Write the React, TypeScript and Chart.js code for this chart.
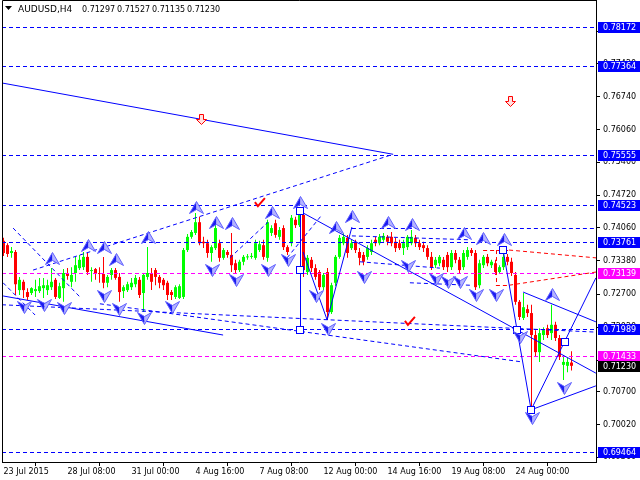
import React, { useEffect, useRef } from 'react';
import { Chart, registerables } from 'chart.js';

Chart.register(...registerables);

// ---- Candle data (AUDUSD H4), bar index 0 = first visible bar ----
const OPEN = [
  0.7379, 0.7370, 0.7354, 0.7356, 0.7278, 0.7295, 0.7274, 0.7272, 0.7276, 0.7276,
  0.7282, 0.7278, 0.7284, 0.7299, 0.7262, 0.7282, 0.7313, 0.7295, 0.7313, 0.7323,
  0.7325, 0.7346, 0.7317, 0.7321, 0.7313, 0.7311, 0.7293, 0.7309, 0.7319, 0.7305,
  0.7276, 0.7278, 0.7284, 0.7290, 0.7299, 0.7272, 0.7305, 0.7313, 0.7319, 0.7305,
  0.7299, 0.7293, 0.7274, 0.7264, 0.7262, 0.7264, 0.7360, 0.7387, 0.7395, 0.7417,
  0.7377, 0.7374, 0.7354, 0.7364, 0.7374, 0.7344, 0.7356, 0.7350, 0.7333, 0.7319,
  0.7336, 0.7345, 0.7346, 0.7344, 0.7360, 0.7370, 0.7344, 0.7395, 0.7415, 0.7387,
  0.7405, 0.7366, 0.7374, 0.7422, 0.7411, 0.7432, 0.7315, 0.7340, 0.7323, 0.7315,
  0.7284, 0.7315, 0.7233, 0.7293, 0.7346, 0.7374, 0.7385, 0.7364, 0.7377, 0.7356,
  0.7350, 0.7346, 0.7356, 0.7381, 0.7374, 0.7381, 0.7387, 0.7387, 0.7377, 0.7374,
  0.7364, 0.7366, 0.7374, 0.7385, 0.7374, 0.7370, 0.7364, 0.7346, 0.7329, 0.7333,
  0.7340, 0.7350, 0.7325, 0.7354, 0.7340, 0.7325, 0.7346, 0.7360, 0.7354, 0.7288,
  0.7329, 0.7346, 0.7329, 0.7333, 0.7315, 0.7325, 0.7346, 0.7336, 0.7309, 0.7254,
  0.7221, 0.7239, 0.7231, 0.7186, 0.7151, 0.7186, 0.7200, 0.7190, 0.7207, 0.7180,
  0.7125, 0.7123, 0.71297,
];
const HIGH = [
  0.7385, 0.7374, 0.7366, 0.7360, 0.7305, 0.7299, 0.7282, 0.7284, 0.7299, 0.7303,
  0.7303, 0.7299, 0.7323, 0.7303, 0.7293, 0.7321, 0.7323, 0.7325, 0.7346, 0.7350,
  0.7356, 0.7354, 0.7325, 0.7323, 0.7325, 0.7346, 0.7309, 0.7323, 0.7323, 0.7313,
  0.7288, 0.7295, 0.7303, 0.7309, 0.7305, 0.7313, 0.7366, 0.7323, 0.7323, 0.7309,
  0.7303, 0.7297, 0.7278, 0.7288, 0.7290, 0.7364, 0.7393, 0.7401, 0.7436, 0.7428,
  0.7387, 0.7381, 0.7370, 0.7422, 0.7381, 0.7364, 0.7360, 0.7395, 0.7340, 0.7340,
  0.7350, 0.7352, 0.7354, 0.7381, 0.7379, 0.7381, 0.7422, 0.7411, 0.7422, 0.7407,
  0.7411, 0.7370, 0.7432, 0.7428, 0.7440, 0.7436, 0.7350, 0.7346, 0.7331, 0.7319,
  0.7313, 0.7323, 0.7293, 0.7350, 0.7391, 0.7395, 0.7391, 0.7381, 0.7381, 0.7364,
  0.7356, 0.7370, 0.7381, 0.7387, 0.7393, 0.7395, 0.7391, 0.7397, 0.7385, 0.7381,
  0.7381, 0.7391, 0.7401, 0.7391, 0.7381, 0.7377, 0.7370, 0.7356, 0.7346, 0.7350,
  0.7346, 0.7356, 0.7360, 0.7360, 0.7346, 0.7360, 0.7366, 0.7364, 0.7360, 0.7340,
  0.7350, 0.7352, 0.7340, 0.7340, 0.7329, 0.7360, 0.7352, 0.7344, 0.7315, 0.7258,
  0.7272, 0.7248, 0.7248, 0.7196, 0.7200, 0.7202, 0.7207, 0.7248, 0.7213, 0.7186,
  0.7145, 0.7139, 0.71527,
];
const LOW = [
  0.7348, 0.7346, 0.7344, 0.7268, 0.7268, 0.7262, 0.7258, 0.7268, 0.7264, 0.7272,
  0.7262, 0.7268, 0.7278, 0.7260, 0.7260, 0.7254, 0.7299, 0.7284, 0.7295, 0.7319,
  0.7319, 0.7309, 0.7295, 0.7299, 0.7293, 0.7282, 0.7284, 0.7299, 0.7299, 0.7254,
  0.7262, 0.7274, 0.7278, 0.7284, 0.7262, 0.7233, 0.7299, 0.7278, 0.7288, 0.7282,
  0.7278, 0.7258, 0.7258, 0.7260, 0.7260, 0.7260, 0.7356, 0.7383, 0.7391, 0.7370,
  0.7364, 0.7344, 0.7336, 0.7360, 0.7336, 0.7340, 0.7344, 0.7315, 0.7313, 0.7315,
  0.7329, 0.7340, 0.7342, 0.7340, 0.7356, 0.7340, 0.7336, 0.7389, 0.7385, 0.7381,
  0.7360, 0.7350, 0.7368, 0.7405, 0.7407, 0.7305, 0.7309, 0.7315, 0.7299, 0.7278,
  0.7278, 0.7217, 0.7229, 0.7286, 0.7342, 0.7370, 0.7344, 0.7360, 0.7354, 0.7329,
  0.7329, 0.7340, 0.7350, 0.7368, 0.7370, 0.7377, 0.7370, 0.7368, 0.7356, 0.7360,
  0.7350, 0.7360, 0.7370, 0.7366, 0.7360, 0.7356, 0.7340, 0.7319, 0.7323, 0.7327,
  0.7319, 0.7315, 0.7319, 0.7333, 0.7313, 0.7319, 0.7340, 0.7348, 0.7278, 0.7282,
  0.7323, 0.7327, 0.7323, 0.7309, 0.7311, 0.7319, 0.7329, 0.7307, 0.7248, 0.7217,
  0.7217, 0.7223, 0.7033, 0.7141, 0.7131, 0.7176, 0.7180, 0.7176, 0.7174, 0.7135,
  0.7094, 0.7110, 0.71135,
];
const CLOSE = [
  0.7354, 0.7352, 0.7358, 0.7290, 0.7299, 0.7278, 0.7264, 0.7282, 0.7280, 0.7286,
  0.7288, 0.7288, 0.7295, 0.7264, 0.7286, 0.7313, 0.7307, 0.7309, 0.7329, 0.7340,
  0.7346, 0.7315, 0.7319, 0.7313, 0.7311, 0.7293, 0.7305, 0.7319, 0.7303, 0.7274,
  0.7284, 0.7290, 0.7293, 0.7303, 0.7268, 0.7309, 0.7313, 0.7295, 0.7305, 0.7293,
  0.7288, 0.7268, 0.7268, 0.7284, 0.7286, 0.7360, 0.7387, 0.7397, 0.7417, 0.7374,
  0.7374, 0.7354, 0.7366, 0.7405, 0.7344, 0.7360, 0.7350, 0.7329, 0.7319, 0.7336,
  0.7346, 0.7347, 0.7348, 0.7374, 0.7372, 0.7346, 0.7417, 0.7405, 0.7391, 0.7401,
  0.7366, 0.7356, 0.7426, 0.7411, 0.7432, 0.7319, 0.7344, 0.7323, 0.7305, 0.7284,
  0.7309, 0.7233, 0.7288, 0.7346, 0.7385, 0.7387, 0.7354, 0.7374, 0.7360, 0.7344,
  0.7336, 0.7364, 0.7374, 0.7374, 0.7387, 0.7389, 0.7377, 0.7374, 0.7364, 0.7364,
  0.7374, 0.7387, 0.7387, 0.7374, 0.7366, 0.7364, 0.7346, 0.7325, 0.7340, 0.7346,
  0.7325, 0.7325, 0.7354, 0.7340, 0.7319, 0.7354, 0.7360, 0.7354, 0.7284, 0.7333,
  0.7346, 0.7333, 0.7336, 0.7315, 0.7325, 0.7346, 0.7336, 0.7313, 0.7254, 0.7223,
  0.7243, 0.7231, 0.7186, 0.7151, 0.7190, 0.7196, 0.7186, 0.7207, 0.7180, 0.7141,
  0.7131, 0.7131, 0.71230,
];

// ---- Axes ----
const X_TICK_BARS = [0, 16, 32, 48, 64, 80, 96, 112, 128];
const X_TICK_LABELS = [
  '23 Jul 2015', '28 Jul 08:00', '31 Jul 00:00', '4 Aug 16:00', '7 Aug 08:00',
  '12 Aug 00:00', '14 Aug 16:00', '19 Aug 08:00', '24 Aug 00:00',
];
const Y_TICKS = [
  0.7808, 0.7742, 0.7674, 0.7606, 0.754, 0.7472, 0.7406, 0.7338, 0.727, 0.7202,
  0.7134, 0.707, 0.7002, 0.6936,
];
const X_MIN = -0.375;
const X_MAX = 148.125;
const Y_MIN = 0.69261;
const Y_MAX = 0.78719;

// ---- Title ----
const SYMBOL = 'AUDUSD,H4';
const TITLE_VALUES = ['0.71297', '0.71527', '0.71135', '0.71230'];

// ---- Horizontal levels ----
const BLUE_LEVELS = [0.78172, 0.77364, 0.75555, 0.74523, 0.73761, 0.71989, 0.69464];
const MAGENTA_LEVELS = [0.73139, 0.71433];
const PRICE_TAGS: [number, string][] = [
  [0.78172, '#0000ff'], [0.77364, '#0000ff'], [0.75555, '#0000ff'], [0.74523, '#0000ff'],
  [0.73761, '#0000ff'], [0.73139, '#ff00ff'], [0.71989, '#0000ff'], [0.71433, '#ff00ff'],
  [0.7123, '#000000'], [0.69464, '#0000ff'],
];

// ---- Trend lines [barFrom, priceFrom, barTo, priceTo] ----
const SOLID_LINES = [
  [-0.375, 0.7702, 97.4, 0.7556],
  [-0.1, 0.7266, 54.9, 0.7186],
  [74, 0.744, 148.1, 0.7108],
  [74, 0.744, 74, 0.7196],
  [80.9, 0.7217, 87.1, 0.7407],
  [74.9, 0.7356, 80.9, 0.7217],
  [124.9, 0.736, 128.4, 0.7196],
  [128.4, 0.7196, 131.9, 0.7033],
  [131.9, 0.7033, 148.1, 0.7303],
  [131.9, 0.7033, 148.1, 0.7082],
  [129.9, 0.7274, 148.1, 0.7213],
];
const DASHED_LINES = [
  [7.4, 0.7319, 97.4, 0.7556],
  [2.4, 0.7405, 19.1, 0.7264],
  [-0.1, 0.7293, 7.9, 0.7227],
  [-0.375, 0.7248, 148.125, 0.7192],
  [24.1, 0.725, 129.6, 0.7131],
  [87.1, 0.7405, 148.125, 0.7405],
  [56.6, 0.7344, 66.1, 0.7417],
  [70.9, 0.7344, 79.6, 0.7432],
  [87.1, 0.7389, 116.6, 0.7381],
  [89.1, 0.7336, 109.1, 0.7323],
  [101.6, 0.7293, 116.6, 0.7288],
];
const RED_DASHED_LINES = [
  [119.9, 0.736, 126.4, 0.736],
  [126.4, 0.736, 148.125, 0.7344],
  [123.1, 0.7288, 126.4, 0.7288],
  [126.4, 0.7288, 148.125, 0.7315],
  [123.1, 0.736, 123.1, 0.7288],
];
const SQUARES = [
  [74, 0.744], [74, 0.7319], [74, 0.7196], [124.9, 0.736], [128.4, 0.7196],
  [131.9, 0.7033], [140.4, 0.7172],
];
const UP_ARROWS = [
  [12, 0.7344], [21, 0.737], [25, 0.7366], [28, 0.7342], [36, 0.7387], [48, 0.7448],
  [53, 0.7417], [57, 0.7415], [67, 0.7438], [74, 0.7458], [83, 0.7407], [87, 0.743],
  [96, 0.7417], [102, 0.7413], [115, 0.7395], [120, 0.7385], [125, 0.7383], [137, 0.727],
];
const DOWN_ARROWS = [
  [5, 0.7243], [10, 0.7248], [15, 0.7241], [25, 0.7266], [29, 0.7239], [35, 0.7221],
  [42, 0.7243], [52, 0.7319], [58, 0.7299], [66, 0.7319], [71, 0.734], [78, 0.7266],
  [81, 0.7198], [90, 0.7305], [101, 0.7327], [108, 0.7301], [111, 0.7295], [114, 0.7295],
  [118, 0.7268], [123, 0.7268], [129, 0.7182], [132, 0.7016], [140, 0.7077],
];
const RED_ARROWS = [[49.4, 0.7628], [126.6, 0.7665]];
const CHECKS = [[64.1, 0.7456], [101.6, 0.7213]];

const FONT = '"DejaVu Sans", Verdana, sans-serif';
const GREEN = '#00ff00';
const RED = '#ff0000';

export default function App() {
  const ref = useRef<HTMLCanvasElement | null>(null);

  useEffect(() => {
    document.body.style.margin = '0';
    const canvas = ref.current;
    if (!canvas) return;

    const colors = OPEN.map((o, i) => (CLOSE[i] >= o ? GREEN : RED));
    const wicks = OPEN.map((_, i) => ({ x: i, y: [LOW[i], HIGH[i]] }));
    const bodies = OPEN.map((o, i) => ({ x: i, y: [o, CLOSE[i]] }));

    const overlay = {
      id: 'overlay',
      afterDatasetsDraw(chart: any) {
        const { ctx, chartArea: a } = chart;
        const xs = chart.scales.x;
        const ys = chart.scales.y;
        const X = (v: number) => xs.getPixelForValue(v);
        const Y = (v: number) => ys.getPixelForValue(v);
        ctx.save();
        ctx.beginPath();
        ctx.rect(a.left, a.top, a.right - a.left, a.bottom - a.top);
        ctx.clip();
        ctx.lineWidth = 1;

        const seg = (l: number[]) => {
          let x1 = X(l[0]), y1 = Y(l[1]), x2 = X(l[2]), y2 = Y(l[3]);
          if (Math.abs(y1 - y2) < 0.01) { y1 = y2 = Math.round(y1) + 0.5; }
          if (Math.abs(x1 - x2) < 0.01) { x1 = x2 = Math.round(x1) + 0.5; }
          ctx.beginPath();
          ctx.moveTo(x1, y1);
          ctx.lineTo(x2, y2);
          ctx.stroke();
        };

        // horizontal levels
        ctx.setLineDash([4, 3]);
        ctx.strokeStyle = '#0000ff';
        BLUE_LEVELS.forEach((p) => seg([X_MIN, p, X_MAX, p]));
        ctx.strokeStyle = '#ff00ff';
        MAGENTA_LEVELS.forEach((p) => seg([X_MIN, p, X_MAX, p]));
        ctx.strokeStyle = '#0000ff';
        DASHED_LINES.forEach(seg);
        ctx.strokeStyle = '#ff0000';
        RED_DASHED_LINES.forEach(seg);
        ctx.setLineDash([]);
        ctx.strokeStyle = '#0000ff';
        SOLID_LINES.forEach(seg);

        // squares
        SQUARES.forEach(([i, p]) => {
          const cx = Math.round(X(i)), cy = Math.round(Y(p));
          ctx.fillStyle = '#ffffff';
          ctx.fillRect(cx - 3, cy - 3, 7, 7);
          ctx.strokeStyle = '#0000ff';
          ctx.strokeRect(cx - 3.5, cy - 3.5, 7, 7);
        });

        // fractal arrows
        const arrow = (cx: number, cy: number, dir: number) => {
          const t = cy - 6 * dir, b = cy + 6 * dir, n = cy + 2 * dir;
          ctx.beginPath();
          ctx.moveTo(cx, t); ctx.lineTo(cx - 7, b); ctx.lineTo(cx, n); ctx.closePath();
          ctx.fillStyle = '#1c1cf0';
          ctx.fill();
          ctx.beginPath();
          ctx.moveTo(cx, t); ctx.lineTo(cx + 7, b); ctx.lineTo(cx, n); ctx.closePath();
          ctx.fillStyle = '#b4b4ff';
          ctx.fill();
          ctx.beginPath();
          ctx.moveTo(cx - 7, b); ctx.lineTo(cx, t); ctx.lineTo(cx + 7, b); ctx.lineTo(cx, n); ctx.closePath();
          ctx.strokeStyle = '#6060ff';
          ctx.stroke();
        };
        UP_ARROWS.forEach(([i, p]) => arrow(Math.round(X(i)) + 0.5, Math.round(Y(p)) + 0.5, 1));
        DOWN_ARROWS.forEach(([i, p]) => arrow(Math.round(X(i)) + 0.5, Math.round(Y(p)) + 0.5, -1));

        // red down arrows
        RED_ARROWS.forEach(([i, p]) => {
          const cx = Math.round(X(i)) + 0.5, cy = Math.round(Y(p)) + 0.5;
          ctx.beginPath();
          ctx.moveTo(cx - 2, cy - 5); ctx.lineTo(cx + 2, cy - 5); ctx.lineTo(cx + 2, cy);
          ctx.lineTo(cx + 5, cy); ctx.lineTo(cx, cy + 5); ctx.lineTo(cx - 5, cy);
          ctx.lineTo(cx - 2, cy); ctx.closePath();
          ctx.fillStyle = '#ffe0e0';
          ctx.fill();
          ctx.strokeStyle = '#ff0000';
          ctx.stroke();
        });

        // red check marks
        CHECKS.forEach(([i, p]) => {
          const cx = X(i), cy = Y(p);
          ctx.beginPath();
          ctx.moveTo(cx - 5, cy - 1); ctx.lineTo(cx - 2, cy + 3); ctx.lineTo(cx + 5, cy - 5);
          ctx.strokeStyle = '#ff0000';
          ctx.lineWidth = 2;
          ctx.stroke();
          ctx.lineWidth = 1;
        });
        ctx.restore();
      },
      afterDraw(chart: any) {
        const { ctx, chartArea: a } = chart;
        const ys = chart.scales.y;
        ctx.save();
        // frame (left + top)
        ctx.strokeStyle = '#000';
        ctx.lineWidth = 1;
        ctx.beginPath();
        ctx.moveTo(a.left + 0.5, a.bottom);
        ctx.lineTo(a.left + 0.5, a.top + 0.5);
        ctx.lineTo(a.right, a.top + 0.5);
        ctx.stroke();

        // price tags on the axis
        ctx.font = `8px ${FONT}`;
        ctx.textBaseline = 'middle';
        ctx.textAlign = 'left';
        PRICE_TAGS.forEach(([p, c]) => {
          const cy = Math.round(ys.getPixelForValue(p));
          ctx.fillStyle = c;
          ctx.fillRect(a.right + 2, cy - 5, 42, 11);
          ctx.fillStyle = '#ffffff';
          ctx.fillText(p.toFixed(5), a.right + 7, cy + 0.5);
        });

        // title
        ctx.fillStyle = '#000';
        ctx.beginPath();
        ctx.moveTo(5, 6); ctx.lineTo(12, 6); ctx.lineTo(8.5, 10); ctx.closePath();
        ctx.fill();
        ctx.font = `9px ${FONT}`;
        ctx.fillText(SYMBOL, 18, 9.5);
        ctx.font = `8px ${FONT}`;
        TITLE_VALUES.forEach((t, k) => ctx.fillText(t, 82 + k * 35, 9.5));
        ctx.restore();
      },
    };

    const chart = new Chart(canvas, {
      type: 'bar',
      data: {
        datasets: [
          {
            data: wicks as any,
            backgroundColor: colors,
            barThickness: 1,
            grouped: false,
            inflateAmount: 0,
            borderWidth: 0,
          } as any,
          {
            data: bodies as any,
            backgroundColor: colors,
            barThickness: 3,
            grouped: false,
            inflateAmount: 0,
            borderWidth: 0,
            minBarLength: 1,
          } as any,
        ],
      },
      options: {
        responsive: false,
        animation: false,
        devicePixelRatio: 1,
        events: [],
        layout: { padding: { left: 2, top: 0, right: 0, bottom: 0 }, autoPadding: false },
        plugins: { legend: { display: false }, tooltip: { enabled: false } },
        scales: {
          x: {
            type: 'linear',
            position: 'bottom',
            min: X_MIN,
            max: X_MAX,
            offset: false,
            grid: { drawOnChartArea: false, drawTicks: true, tickLength: 4, color: '#000' },
            border: { display: true, color: '#000', width: 1 },
            ticks: {
              autoSkip: false,
              maxRotation: 0,
              minRotation: 0,
              align: 'start',
              padding: 1,
              color: '#000',
              font: { family: FONT, size: 8 },
              callback: (_v: any, i: number) => X_TICK_LABELS[i] ?? '',
            },
            afterBuildTicks: (s: any) => {
              s.ticks = X_TICK_BARS.map((v) => ({ value: v }));
            },
            afterFit: (s: any) => {
              s.height = 18;
              s.paddingLeft = 0;
              s.paddingRight = 0;
            },
          } as any,
          y: {
            type: 'linear',
            position: 'right',
            min: Y_MIN,
            max: Y_MAX,
            grid: { drawOnChartArea: false, drawTicks: true, tickLength: 4, color: '#000' },
            border: { display: true, color: '#000', width: 1 },
            ticks: {
              autoSkip: false,
              padding: 3,
              color: '#000',
              font: { family: FONT, size: 8 },
              callback: (v: any) => Number(v).toFixed(5),
            },
            afterBuildTicks: (s: any) => {
              s.ticks = Y_TICKS.map((v) => ({ value: v }));
            },
            afterFit: (s: any) => {
              s.width = 44;
              s.paddingTop = 0;
              s.paddingBottom = 0;
            },
          } as any,
        },
      },
      plugins: [overlay],
    });

    return () => chart.destroy();
  }, []);

  return (
    <div style={{ position: 'absolute', left: 0, top: 0, width: 640, height: 480, background: '#fff' }}>
      <canvas ref={ref} width={640} height={480} style={{ width: 640, height: 480, display: 'block' }} />
    </div>
  );
}
